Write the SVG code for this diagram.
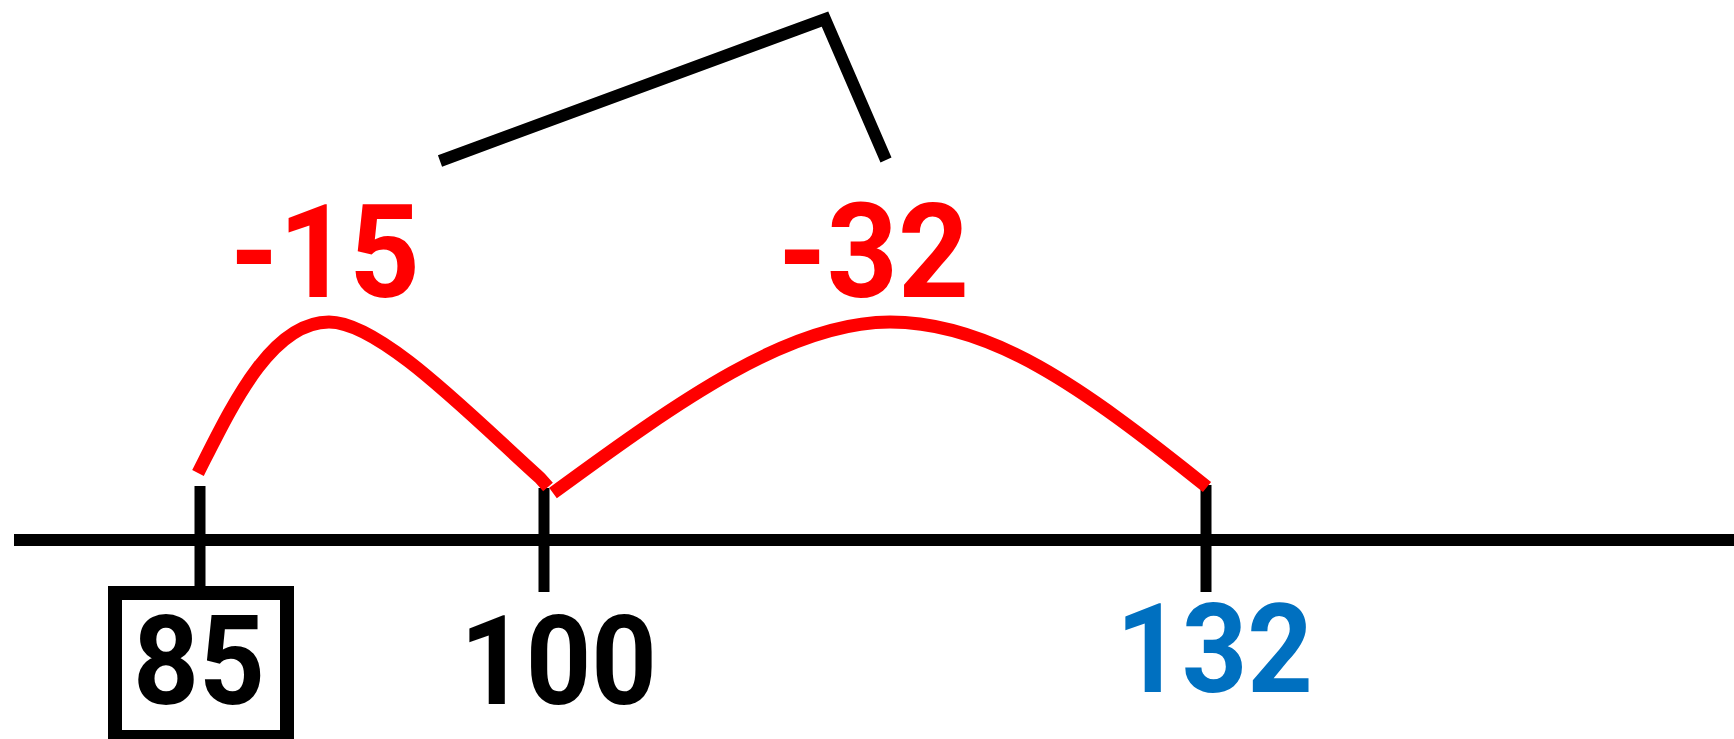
<svg xmlns="http://www.w3.org/2000/svg" width="1734" height="739" viewBox="0 0 1734 739">
<style>
.ax{stroke:#000;stroke-width:12;fill:none}
.tk{stroke:#000;stroke-width:11;fill:none}
.arc{stroke:#FF0000;stroke-width:13;fill:none;stroke-linecap:butt;stroke-linejoin:round}
.brk{stroke:#000;stroke-width:12;fill:none;stroke-linejoin:miter;stroke-miterlimit:10}
.num{font-family:Roboto,"Liberation Sans",Arial,sans-serif;font-weight:bold}
.red{fill:#FF0000}
.blk{fill:#000}
.blu{fill:#0070C0}
</style>
<rect width="1734" height="739" fill="#fff"/>
<g id="axis">
<line class="ax" x1="14" y1="540" x2="1734" y2="540"/>
</g>
<g id="node-85">
<line class="tk" x1="200" y1="486" x2="200" y2="593"/>
<rect x="115" y="593" width="172" height="144" fill="none" stroke="#000" stroke-width="14"/>
<text class="num blk" x="133" y="704" font-size="124" textLength="132" lengthAdjust="spacingAndGlyphs">85</text>
</g>
<g id="node-100">
<line class="tk" x1="544" y1="488" x2="544" y2="592"/>
<text class="num blk" x="460" y="704" font-size="124" textLength="197" lengthAdjust="spacingAndGlyphs">100</text>
</g>
<g id="node-132">
<line class="tk" x1="1206" y1="485" x2="1206" y2="592"/>
<text class="num blu" x="1116" y="692" font-size="124" textLength="197" lengthAdjust="spacingAndGlyphs">132</text>
</g>
<g id="label-m15">
<text class="num red" x="230" y="297" font-size="129" textLength="190" lengthAdjust="spacingAndGlyphs">-15</text>
</g>
<g id="label-m32">
<text class="num red" x="778" y="297" font-size="131" textLength="191" lengthAdjust="spacingAndGlyphs">-32</text>
</g>
<g id="connectors">
<path class="arc" d="M198,473 C230,410 270,322 329,322 C380,322 470,415 540,478 L548,487"/>
<path class="arc" d="M553,493 C680,400 790,322 890,322 C990,322 1080,385 1207,487"/>
<polyline class="brk" points="440,161 825,19 886,160"/>
</g>
</svg>
